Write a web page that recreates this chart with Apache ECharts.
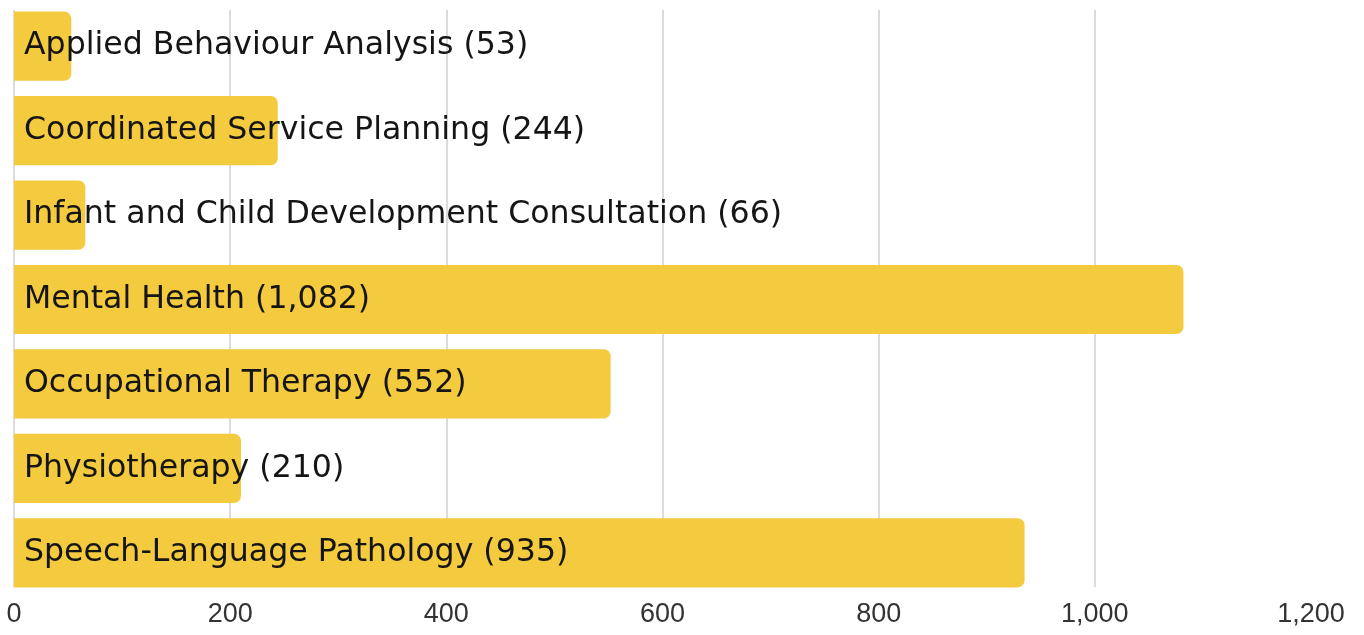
<!DOCTYPE html>
<html>
<head>
    <meta charset="utf-8">
    <title>Services</title>
    <script src="https://cdn.jsdelivr.net/npm/echarts@6/dist/echarts.min.js"></script>
    <style type="text/css">
        * { margin: 0; padding: 0; }
        body { background: #fff; }
    </style>
</head>
<body>
<div id="main" style="width: 1364px; height: 635px;"></div>
<script type="text/javascript">
    // data
    var categories = [
        'Applied Behaviour Analysis',
        'Coordinated Service Planning',
        'Infant and Child Development Consultation',
        'Mental Health',
        'Occupational Therapy',
        'Physiotherapy',
        'Speech-Language Pathology'
    ];
    var counts = [53, 244, 66, 1082, 552, 210, 935];
    var xTicks = [0, 200, 400, 600, 800, 1000, 1200];

    var myChart = echarts.init(document.getElementById('main'));

    function fmt(v) {
        return v.toLocaleString('en-US');
    }

    var option = {
        animation: false,
        // grid 0 holds the bars, grid 1 only the gridlines and tick labels
        // (the gridlines in the picture are a bit shorter than the bar band)
        grid: [
            { top: 4, left: 14, right: 53, bottom: 40 },
            { top: 10, left: 14, right: 53, bottom: 48 }
        ],
        xAxis: [
            {
                gridIndex: 0,
                type: 'value',
                min: xTicks[0],
                max: xTicks[xTicks.length - 1],
                interval: 200,
                axisLine: { show: false },
                axisTick: { show: false },
                splitLine: { show: false },
                axisLabel: { show: false }
            },
            {
                gridIndex: 1,
                type: 'value',
                min: xTicks[0],
                max: xTicks[xTicks.length - 1],
                interval: 200,
                axisLine: { show: false },
                axisTick: { show: false },
                splitLine: {
                    show: true,
                    showMaxLine: false,
                    lineStyle: { color: '#cfcfcf', width: 1.5 }
                },
                axisLabel: {
                    color: '#333',
                    fontSize: 27,
                    fontFamily: 'Liberation Sans',
                    margin: 14,
                    formatter: fmt
                }
            }
        ],
        yAxis: [
            {
                gridIndex: 0,
                type: 'category',
                inverse: true,
                data: categories,
                axisLine: { show: false },
                axisTick: { show: false },
                axisLabel: { show: false }
            },
            {
                gridIndex: 1,
                type: 'category',
                data: categories,
                show: false
            }
        ],
        series: [
            {
                type: 'bar',
                xAxisIndex: 0,
                yAxisIndex: 0,
                data: counts,
                barCategoryGap: '18%',
                itemStyle: {
                    color: '#F4CA3E',
                    borderRadius: [0, 7, 7, 0]
                },
                label: {
                    show: true,
                    position: 'insideLeft',
                    distance: 10,
                    color: '#151515',
                    fontSize: 31.6,
                    fontFamily: 'DejaVu Sans',
                    formatter: function (p) {
                        return p.name + ' (' + fmt(p.value) + ')';
                    }
                }
            }
        ]
    };
    myChart.setOption(option);

    window.addEventListener('resize', function () {
        myChart.resize();
    });
</script>
</body>
</html>
